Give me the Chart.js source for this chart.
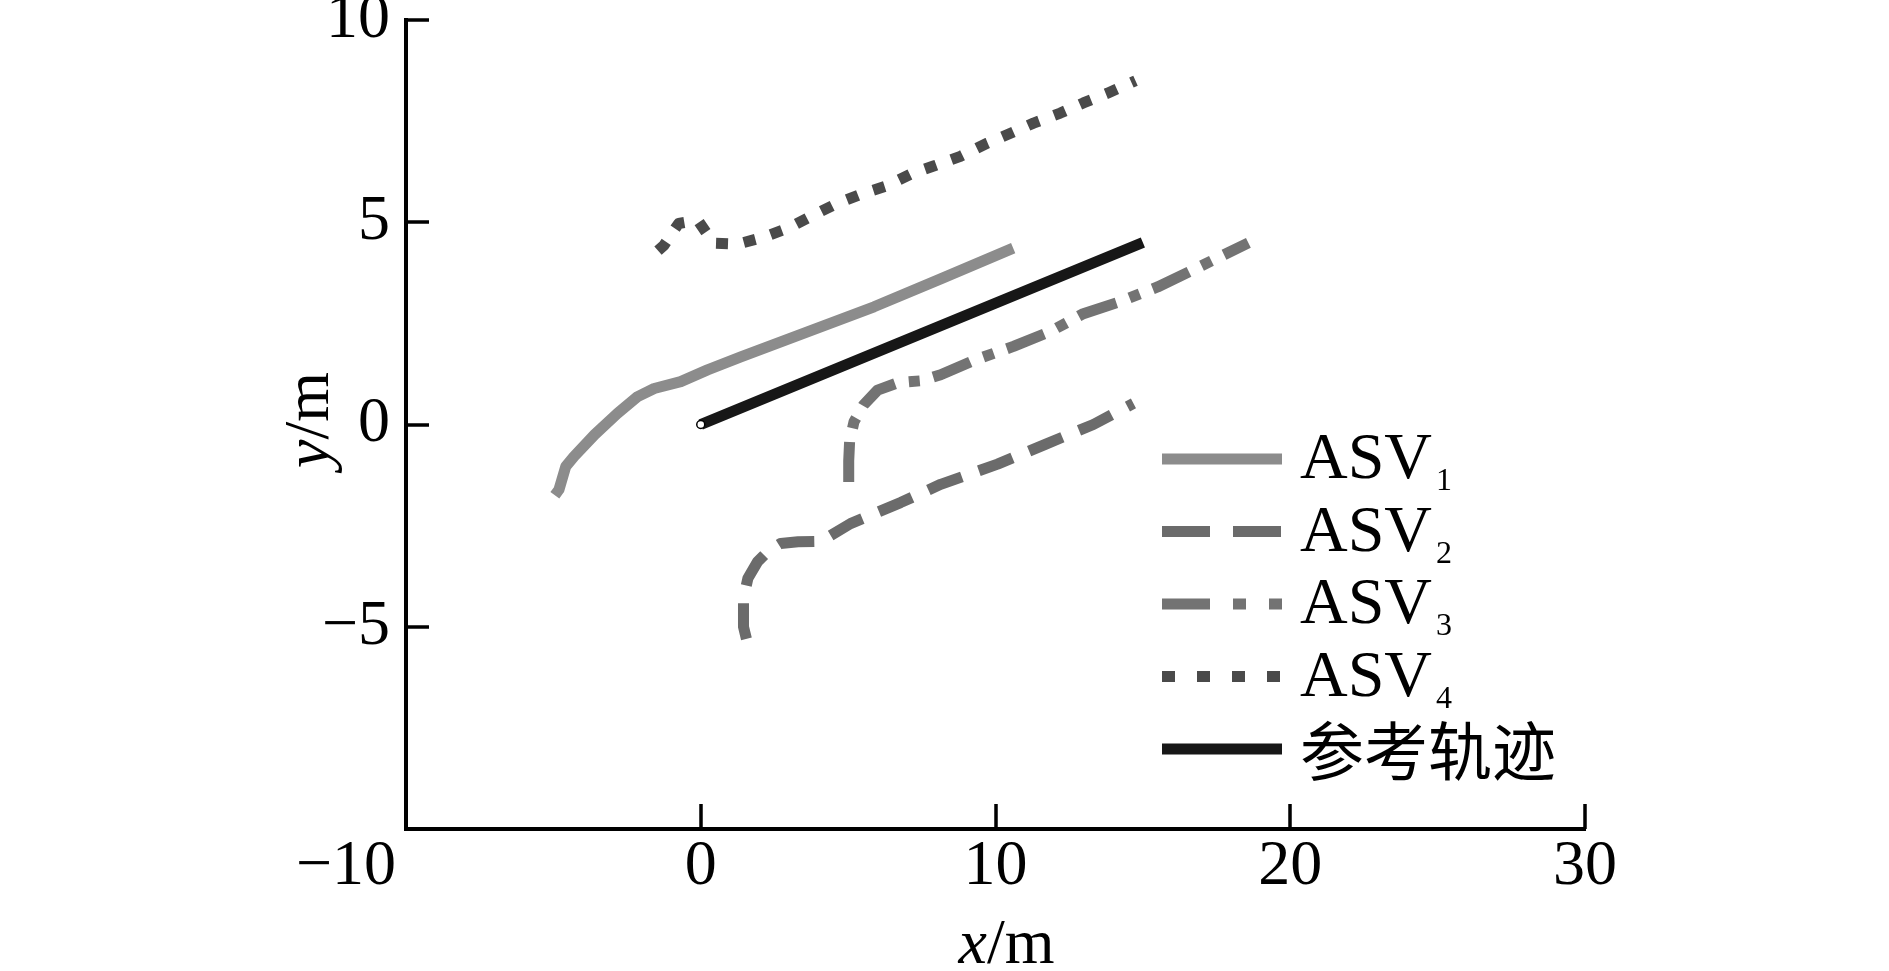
<!DOCTYPE html>
<html>
<head>
<meta charset="utf-8">
<script src="https://cdn.jsdelivr.net/npm/chart.js@4"></script>
<style>
html, body { margin: 0; padding: 0; background: #fff; }
canvas { display: block; }
</style>
</head>
<body>
<canvas id="myChart" width="1889" height="971"></canvas>
<script>
'use strict';

// trajectories (x/m, y/m)
const asv1X = [-4.95, -4.81, -4.58, -4.3, -3.6, -2.83, -2.14, -1.58, -0.68, 0.23, 1.36, 3.62, 5.88, 8.14, 10.6];
const asv1Y = [-1.75, -1.61, -1.04, -0.79, -0.25, 0.27, 0.69, 0.89, 1.06, 1.35, 1.67, 2.29, 2.91, 3.6, 4.36];

const asv2X = [1.55, 1.45, 1.45, 1.6, 1.93, 2.27, 2.71, 3.3, 4.07, 5.08, 6.78, 8.14, 10.07, 11.69, 13.32, 14.68];
const asv2Y = [-5.3, -5.0, -4.3, -3.8, -3.39, -3.14, -2.94, -2.9, -2.89, -2.45, -1.93, -1.48, -0.98, -0.49, 0.0, 0.52];

const asv3X = [5.02, 5.02, 5.05, 5.2, 5.53, 6.0, 6.68, 7.46, 8.14, 9.32, 10.61, 11.86, 12.98, 14.24, 15.5, 16.78, 18.58];
const asv3Y = [-1.42, -0.9, -0.42, 0.07, 0.49, 0.85, 1.03, 1.08, 1.23, 1.6, 1.93, 2.3, 2.74, 3.04, 3.4, 3.85, 4.49];

const asv4X = [-1.45, -1.25, -0.75, -0.1, 0.44, 1.25, 2.13, 2.95, 3.8, 4.58, 5.42, 6.27, 7.12, 7.9, 8.81, 9.73, 10.51, 11.29, 12.2, 12.98, 13.8, 14.75];
const asv4Y = [4.3, 4.43, 4.97, 5.05, 4.48, 4.46, 4.63, 4.85, 5.17, 5.45, 5.69, 5.89, 6.19, 6.39, 6.63, 6.96, 7.2, 7.45, 7.7, 7.95, 8.19, 8.5];

const refX = [0, 7.5, 15];
const refY = [0, 2.25, 4.5];

const seriesNames = ['ASV1', 'ASV2', 'ASV3', 'ASV4', '参考轨迹'];

const xTicks = [-10, 0, 10, 20, 30];
const xTickLabels = ['−10', '0', '10', '20', '30'];
const yTicks = [-10, -5, 0, 5, 10];
const yTickLabels = ['', '−5', '0', '5', '10'];

const colors = ['#8c8c8c', '#6b6b6b', '#737373', '#4a4a4a', '#171717'];
const plotDash = [[], [36, 18], [40, 14, 11, 14], [12, 16], []];
const legendDash = [[], [48, 23], [48, 23, 13, 23], [13, 22], []];

const serif = '"Liberation Serif", "Times New Roman", serif';

function toPoints(xs, ys) {
    return xs.map((x, i) => ({ x: x, y: ys[i] }));
}

const allData = [
    toPoints(asv1X, asv1Y),
    toPoints(asv2X, asv2Y),
    toPoints(asv3X, asv3Y),
    toPoints(asv4X, asv4Y),
    toPoints(refX, refY)
];

const datasets = allData.map((pts, i) => ({
    label: seriesNames[i],
    data: pts,
    showLine: true,
    borderColor: colors[i],
    borderWidth: 11,
    borderDash: plotDash[i],
    borderCapStyle: 'butt',
    borderJoinStyle: 'round',
    pointRadius: i === 4 ? [4, 0, 0] : 0,
    pointBackgroundColor: '#fff',
    pointBorderColor: '#000',
    pointBorderWidth: 1.5,
    fill: false,
    tension: 0
}));

// axes ticks pointing inward, axis titles, legend with subscripts
const decorations = {
    id: 'decorations',
    beforeDraw(chart) {
        const items = chart.scales.x.getLabelItems();
        if (items.length && !items[0].moved) {
            items[0].options.translation[0] -= 60;
            items[0].moved = true;
        }
    },
    afterDraw(chart) {
        const ctx = chart.ctx;
        const area = chart.chartArea;
        const xs = chart.scales.x;
        const ys = chart.scales.y;
        ctx.save();
        ctx.strokeStyle = '#000';
        ctx.lineWidth = 3.5;
        ctx.beginPath();
        xTicks.slice(1).forEach(v => {
            const px = Math.round(xs.getPixelForValue(v));
            ctx.moveTo(px, area.bottom);
            ctx.lineTo(px, area.bottom - 25);
        });
        yTicks.slice(1).forEach(v => {
            const py = Math.round(ys.getPixelForValue(v));
            ctx.moveTo(area.left, py);
            ctx.lineTo(area.left + 23, py);
        });
        ctx.stroke();

        // axis titles: italic variable + "/m"
        ctx.fillStyle = '#000';
        ctx.textBaseline = 'middle';
        ctx.textAlign = 'left';
        function title(v, cx, cy, rot) {
            ctx.save();
            ctx.translate(cx, cy);
            ctx.rotate(rot);
            ctx.font = 'italic 64px ' + serif;
            const w1 = ctx.measureText(v).width;
            ctx.font = '64px ' + serif;
            const w2 = ctx.measureText('/m').width;
            const start = -(w1 + w2) / 2;
            ctx.font = 'italic 64px ' + serif;
            ctx.fillText(v, start, 0);
            ctx.font = '64px ' + serif;
            ctx.fillText('/m', start + w1, 0);
            ctx.restore();
        }
        title('x', (area.left + area.right) / 2 + 11, 946, 0);
        title('y', 311, 420, -Math.PI / 2);

        // legend
        chart.data.datasets.forEach((ds, i) => {
            const y = 459 + i * 72.5;
            ctx.strokeStyle = ds.borderColor;
            ctx.lineWidth = 11;
            ctx.lineCap = 'butt';
            ctx.setLineDash(legendDash[i]);
            ctx.beginPath();
            ctx.moveTo(1162, y);
            ctx.lineTo(1282, y);
            ctx.stroke();
            ctx.setLineDash([]);

            ctx.fillStyle = '#000';
            const m = /^(ASV)(\d)$/.exec(ds.label);
            if (m) {
                ctx.textBaseline = 'alphabetic';
                ctx.font = '66px ' + serif;
                ctx.fillText(m[1], 1300, y + 19);
                const w = ctx.measureText(m[1]).width;
                ctx.font = '32px ' + serif;
                ctx.fillText(m[2], 1300 + w + 4, y + 31);
            } else {
                ctx.textBaseline = 'middle';
                ctx.font = '64px "Noto Sans CJK SC", sans-serif';
                ctx.fillText(ds.label, 1300, y + 2);
            }
        });
        ctx.restore();
    }
};

const tickFont = { family: serif, size: 64 };
const ctx = document.getElementById('myChart');

new Chart(ctx, {
    type: 'scatter',
    data: { datasets: datasets },
    options: {
        responsive: false,
        animation: false,
        devicePixelRatio: 1,
        layout: { padding: { left: 0, top: 20, right: 304, bottom: 0 } },
        plugins: {
            legend: { display: false },
            tooltip: { enabled: false }
        },
        scales: {
            x: {
                type: 'linear',
                min: -10,
                max: 30,
                afterBuildTicks: s => { s.ticks = xTicks.map(v => ({ value: v })); },
                ticks: {
                    font: tickFont,
                    color: '#000',
                    padding: 0,
                    maxRotation: 0,
                    autoSkip: false,
                    callback: v => xTickLabels[xTicks.indexOf(v)]
                },
                grid: { display: false, drawTicks: false },
                border: { display: true, color: '#000', width: 4 },
                afterFit: s => { s.height = 142; s.paddingLeft = 0; s.paddingRight = 0; }
            },
            y: {
                type: 'linear',
                min: -10,
                max: 10,
                afterBuildTicks: s => { s.ticks = yTicks.map(v => ({ value: v })); },
                ticks: {
                    font: tickFont,
                    color: '#000',
                    padding: 16,
                    autoSkip: false,
                    callback: v => yTickLabels[yTicks.indexOf(v)]
                },
                grid: { display: false, drawTicks: false },
                border: { display: true, color: '#000', width: 4 },
                afterFit: s => { s.width = 406; s.paddingTop = 0; s.paddingBottom = 0; }
            }
        }
    },
    plugins: [decorations]
});
</script>
</body>
</html>
